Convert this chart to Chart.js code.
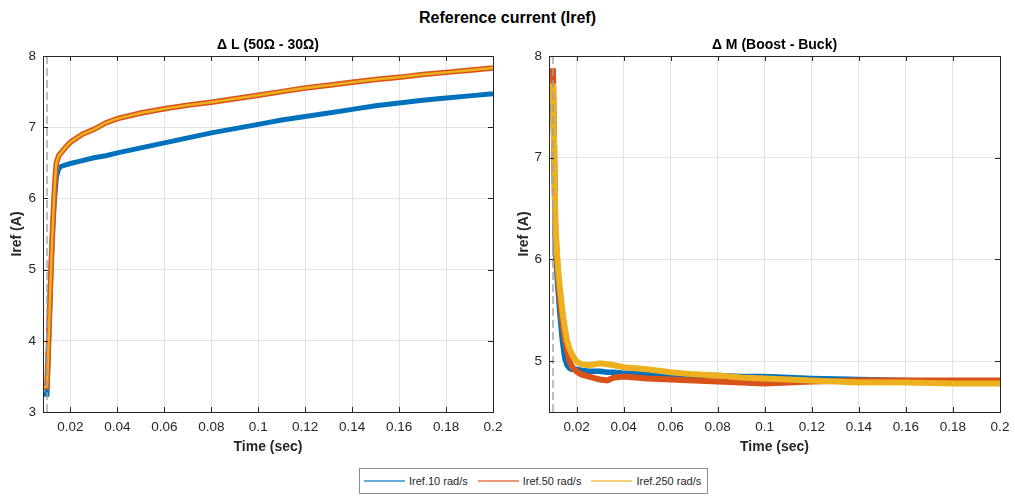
<!DOCTYPE html>
<html lang="en">
<head>
  <meta charset="UTF-8" />
  <title>Reference current (Iref)</title>
  <style>
    * { box-sizing: border-box; margin: 0; padding: 0; }
    body {
      width: 1015px; height: 496px;
      background: #fff;
      font-family: 'Liberation Sans', Arial, sans-serif;
      position: relative; overflow: hidden;
    }
    h1 {
      position: absolute; top: 8px; left: 0;
      width: 1015px; text-align: center;
      font-size: 16px; line-height: 20px; font-weight: bold; color: #000;
    }
    canvas { position: absolute; top: 0; }
    #leftChart { left: 0; }
    #rightChart { left: 507px; }
    .legend {
      position: absolute; left: 359px; top: 468px;
      width: 349px; height: 26px;
      border: 1px solid #8c8c8c; background: #fff;
      display: flex; align-items: center;
      font-size: 11px; color: #262626;
      padding-left: 4px; white-space: nowrap;
    }
    .legend .line { display: inline-block; flex: 0 0 41px; height: 2px; margin-right: 4px; }
    .legend .txt { margin-right: 10px; }
  </style>
</head>
<body>
  <h1>Reference current (Iref)</h1>
  <canvas id="leftChart" width="507" height="466"></canvas>
  <canvas id="rightChart" width="508" height="466"></canvas>
  <div class="legend" id="legend"></div>

  <script src="https://cdn.jsdelivr.net/npm/chart.js"></script>
  <script>
    // --- data ---
    const seriesNames = ['Iref.10 rad/s', 'Iref.50 rad/s', 'Iref.250 rad/s'];
    const seriesColors = ['#0072BD', '#D95319', '#EDB120'];
    const legendColors = ['rgba(0,114,189,0.6)', 'rgba(217,83,25,0.6)', 'rgba(237,177,32,0.6)'];

    const xTicks = [0.02, 0.04, 0.06, 0.08, 0.1, 0.12, 0.14, 0.16, 0.18, 0.2];
    const xMin = 0.0083, xMax = 0.2;
    const eventTime = 0.01;

    // Left panel: ΔL (50Ω - 30Ω)
    const leftTitle = 'Δ L (50Ω - 30Ω)';
    const leftYTicks = [3, 4, 5, 6, 7, 8];
    const leftTime = [0.0083, 0.01, 0.0105, 0.011, 0.0115, 0.012, 0.0125, 0.013, 0.0135, 0.014, 0.015, 0.016,
      0.018, 0.02, 0.025, 0.03, 0.035, 0.04, 0.05, 0.06, 0.07, 0.08, 0.09, 0.1, 0.11, 0.12, 0.13, 0.14,
      0.15, 0.16, 0.17, 0.18, 0.19, 0.2];
    const leftI10 = [3.25, 3.25, 3.8, 4.3, 4.8, 5.25, 5.6, 5.9, 6.1, 6.3, 6.42, 6.45,
      6.47, 6.49, 6.53, 6.57, 6.6, 6.64, 6.71, 6.78, 6.85, 6.92, 6.98, 7.04, 7.1, 7.15, 7.2, 7.25,
      7.3, 7.34, 7.38, 7.41, 7.44, 7.47];
    const leftI50 = [3.35, 3.35, 3.8, 4.3, 4.8, 5.25, 5.65, 6.0, 6.3, 6.5, 6.6, 6.64,
      6.72, 6.79, 6.9, 6.97, 7.06, 7.12, 7.2, 7.26, 7.31, 7.35, 7.4, 7.45, 7.5, 7.55, 7.59, 7.63,
      7.67, 7.7, 7.74, 7.77, 7.8, 7.83];
    const leftI250 = [3.35, 3.35, 3.8, 4.3, 4.8, 5.25, 5.65, 6.0, 6.3, 6.5, 6.6, 6.64,
      6.72, 6.79, 6.9, 6.97, 7.06, 7.12, 7.2, 7.26, 7.31, 7.35, 7.4, 7.45, 7.5, 7.55, 7.59, 7.63,
      7.67, 7.7, 7.74, 7.77, 7.8, 7.83];

    // Right panel: ΔM (Boost - Buck)
    const rightTitle = 'Δ M (Boost - Buck)';
    const rightYTicks = [5, 6, 7, 8];
    const rightTime = [0.0083, 0.01, 0.0105, 0.011, 0.012, 0.013, 0.014, 0.015, 0.016, 0.017, 0.018, 0.019,
      0.02, 0.022, 0.025, 0.028, 0.03, 0.033, 0.036, 0.04, 0.045, 0.05, 0.06, 0.07, 0.08, 0.09, 0.1,
      0.11, 0.12, 0.14, 0.16, 0.18, 0.2];
    const rightI10 = [7.5, 7.5, 7.0, 6.1, 5.75, 5.45, 5.2, 5.03, 4.96, 4.93, 4.92, 4.92,
      4.92, 4.91, 4.9, 4.9, 4.9, 4.89, 4.89, 4.88, 4.88, 4.87, 4.87, 4.86, 4.86, 4.85, 4.85,
      4.84, 4.83, 4.82, 4.81, 4.8, 4.78];
    const rightI50 = [7.85, 7.85, 7.1, 6.3, 5.9, 5.6, 5.38, 5.22, 5.1, 5.0, 4.95, 4.92,
      4.9, 4.87, 4.85, 4.83, 4.82, 4.81, 4.84, 4.85, 4.84, 4.83, 4.82, 4.81, 4.8, 4.79, 4.78,
      4.79, 4.8, 4.81, 4.81, 4.81, 4.81];
    const rightI250 = [7.7, 7.7, 7.1, 6.35, 5.95, 5.7, 5.5, 5.33, 5.2, 5.12, 5.07, 5.03,
      5.0, 4.97, 4.96, 4.97, 4.98, 4.97, 4.96, 4.94, 4.93, 4.92, 4.89, 4.87, 4.86, 4.84, 4.83,
      4.82, 4.81, 4.79, 4.79, 4.78, 4.78];

    // --- helpers ---
    const toPoints = (xs, ys) => xs.map((x, i) => ({ x, y: ys[i] }));
    const fmt = v => String(+v.toFixed(2));
    const axisColor = '#262626';

    // MATLAB-like box with inward tick marks on all four sides
    const boxPlugin = {
      id: 'box',
      afterDraw(chart) {
        const { ctx, chartArea: a, scales } = chart;
        ctx.save();
        ctx.strokeStyle = axisColor;
        ctx.lineWidth = 1;
        ctx.beginPath();
        scales.x.ticks.forEach(t => {
          const px = Math.round(scales.x.getPixelForValue(t.value)) + 0.5;
          ctx.moveTo(px, a.bottom); ctx.lineTo(px, a.bottom - 5);
          ctx.moveTo(px, a.top); ctx.lineTo(px, a.top + 5);
        });
        scales.y.ticks.forEach(t => {
          const py = Math.round(scales.y.getPixelForValue(t.value)) + 0.5;
          ctx.moveTo(a.left, py); ctx.lineTo(a.left + 5, py);
          ctx.moveTo(a.right, py); ctx.lineTo(a.right - 5, py);
        });
        ctx.stroke();
        ctx.strokeRect(Math.round(a.left) + 0.5, Math.round(a.top) + 0.5,
          Math.round(a.right - a.left), Math.round(a.bottom - a.top));
        ctx.restore();
      }
    };

    function makeChart(id, title, yTicks, yMin, yMax, time, s10, s50, s250, widths, yWidth, rightPad) {
      const seriesData = [s10, s50, s250];
      const datasets = seriesData.map((ys, i) => ({
        label: seriesNames[i],
        data: toPoints(time, ys),
        borderColor: seriesColors[i],
        borderWidth: widths[i],
        pointRadius: 0,
        tension: 0,
        order: 3 - i
      }));
      datasets.push({
        label: 'event',
        data: [{ x: eventTime, y: yMin }, { x: eventTime, y: yMax }],
        borderColor: '#a0a0a0',
        borderWidth: 1.4,
        borderDash: [8, 4],
        pointRadius: 0,
        order: 0
      });

      return new Chart(document.getElementById(id), {
        type: 'line',
        data: { datasets },
        plugins: [boxPlugin],
        options: {
          responsive: false,
          animation: false,
          devicePixelRatio: 1,
          layout: { padding: { top: 30, right: rightPad, bottom: 0, left: 0 } },
          plugins: {
            legend: { display: false },
            tooltip: { enabled: false },
            title: {
              display: true,
              fullSize: false,
              text: title,
              color: '#000',
              font: { family: "'Liberation Sans', Arial, sans-serif", size: 14, weight: 'bold' },
              padding: { top: 6.6, bottom: 2.6 }
            }
          },
          scales: {
            x: {
              type: 'linear',
              min: xMin, max: xMax,
              afterBuildTicks: s => { s.ticks = xTicks.map(v => ({ value: v })); },
              afterFit: s => { s.height = 54; s.paddingLeft = 0; s.paddingRight = 0; },
              grid: { color: '#e3e3e3', drawTicks: false },
              border: { display: false },
              ticks: {
                color: axisColor, padding: 7,
                font: { family: "'Liberation Sans', Arial, sans-serif", size: 13.5 },
                callback: v => fmt(v)
              },
              title: {
                display: true, text: 'Time (sec)', color: axisColor,
                font: { family: "'Liberation Sans', Arial, sans-serif", size: 14, weight: 'bold' },
                padding: { top: 0, bottom: 10.5 }
              }
            },
            y: {
              min: yMin, max: yMax,
              afterBuildTicks: s => { s.ticks = yTicks.map(v => ({ value: v })); },
              afterFit: s => { s.width = yWidth; },
              grid: { color: '#e3e3e3', drawTicks: false },
              border: { display: false },
              ticks: {
                color: axisColor, padding: 7,
                font: { family: "'Liberation Sans', Arial, sans-serif", size: 13.5 },
                callback: v => fmt(v)
              },
              title: {
                display: true, text: 'Iref (A)', color: axisColor,
                font: { family: "'Liberation Sans', Arial, sans-serif", size: 14, weight: 'bold' },
                padding: { top: 8.5, bottom: 0 }
              }
            }
          }
        }
      });
    }

    makeChart('leftChart', leftTitle, leftYTicks, 3, 8, leftTime, leftI10, leftI50, leftI250, [5, 5.5, 2.5], 43, 14);
    makeChart('rightChart', rightTitle, rightYTicks, 4.5, 8, rightTime, rightI10, rightI50, rightI250, [5.5, 6, 6], 42, 15);

    // legend shared by both panels
    const legend = document.getElementById('legend');
    seriesNames.forEach((name, i) => {
      const line = document.createElement('span');
      line.className = 'line';
      line.style.background = legendColors[i];
      const txt = document.createElement('span');
      txt.className = 'txt';
      txt.textContent = name;
      legend.appendChild(line);
      legend.appendChild(txt);
    });
  </script>
</body>
</html>
